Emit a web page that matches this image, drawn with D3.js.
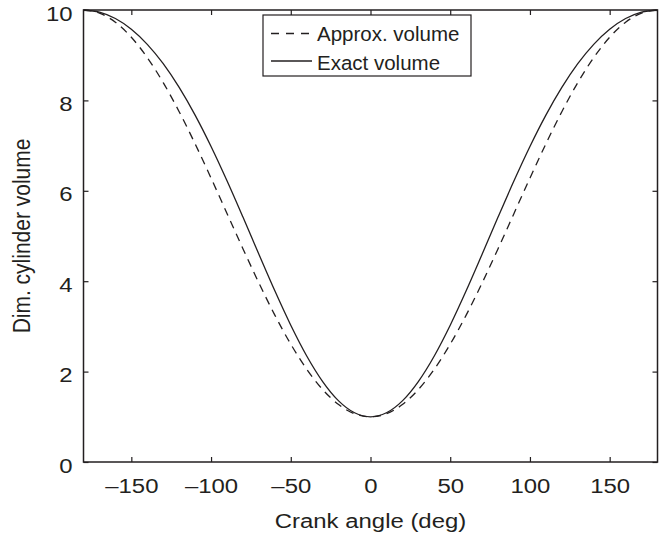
<!DOCTYPE html>
<html>
<head>
<meta charset="utf-8">
<script src="https://cdn.jsdelivr.net/npm/d3@7/dist/d3.min.js"></script>
<style>
  html, body { margin: 0; padding: 0; background: #fff; }
  svg { display: block; }
  text { font-family: "Liberation Sans", Arial, Helvetica, sans-serif; fill: #231f20; }
</style>
</head>
<body>
<svg id="chart" width="659" height="539"></svg>
<script>
// ---- data ----
const crankAngle = [-180,-170,-160,-150,-140,-130,-120,-110,-100,-90,-80,-70,-60,-50,-40,-30,-20,-10,0,
                    10,20,30,40,50,60,70,80,90,100,110,120,130,140,150,160,170,180];
const approxVolume = [10.000,9.932,9.729,9.397,8.947,8.393,7.750,7.039,6.281,5.500,4.719,3.961,3.250,2.607,2.053,1.603,1.271,1.068,1.000,
                      1.068,1.271,1.603,2.053,2.607,3.250,3.961,4.719,5.500,6.281,7.039,7.750,8.393,8.947,9.397,9.729,9.932,10.000];
const exactVolume = [10.000,9.953,9.811,9.574,9.240,8.812,8.287,7.674,6.980,6.221,5.418,4.596,3.787,3.026,2.346,1.780,1.353,1.089,1.000,
                     1.089,1.353,1.780,2.346,3.026,3.787,4.596,5.418,6.221,6.980,7.674,8.287,8.812,9.240,9.574,9.811,9.953,10.000];
const xTicks = [-150,-100,-50,0,50,100,150];
const xTickLabels = ["\u2013150","\u2013100","\u201350","0","50","100","150"];
const yTicks = [0,2,4,6,8,10];
const yTickLabels = ["0","2","4","6","8","10"];
const seriesNames = ["Approx. volume","Exact volume"];
const xTitle = "Crank angle (deg)";
const yTitle = "Dim. cylinder volume";

// ---- layout ----
const ink = "#231f20";
const stretch = 1.14;
const svg = d3.select("#chart");
const x = d3.scaleLinear().domain([-180,180]).range([83.5,657.5]);
const y = d3.scaleLinear().domain([0,10]).range([462,10]);

// box
svg.append("rect")
  .attr("x", x(-180)).attr("y", y(10))
  .attr("width", x(180)-x(-180)).attr("height", y(0)-y(10))
  .attr("fill","none").attr("stroke",ink).attr("stroke-width",1.5);

// axes (ticks inward)
const gB = svg.append("g").attr("transform",`translate(0,${y(0)})`)
  .call(d3.axisBottom(x).tickValues(xTicks).tickSize(-5).tickSizeOuter(0).tickFormat((d,i)=>xTickLabels[i]));
const gT = svg.append("g").attr("transform",`translate(0,${y(10)})`)
  .call(d3.axisTop(x).tickValues(xTicks).tickSize(-5).tickSizeOuter(0).tickFormat(""));
const gL = svg.append("g").attr("transform",`translate(${x(-180)},0)`)
  .call(d3.axisLeft(y).tickValues(yTicks).tickSize(-5).tickSizeOuter(0).tickFormat((d,i)=>yTickLabels[i]));
const gR = svg.append("g").attr("transform",`translate(${x(180)},0)`)
  .call(d3.axisRight(y).tickValues(yTicks).tickSize(-5).tickSizeOuter(0).tickFormat(""));
[gB,gT,gL,gR].forEach(g=>{
  g.select(".domain").remove();
  g.selectAll(".tick line").attr("stroke",ink).attr("stroke-width",1.2);
});
gB.selectAll(".tick text")
  .attr("y",31).attr("dy",null)
  .attr("transform",`scale(${stretch},1)`)
  .style("font-size","21px").style("fill",ink);
gL.selectAll(".tick text")
  .attr("x",-11/stretch).attr("dy",null).attr("y",10)
  .attr("transform",`scale(${stretch},1)`)
  .style("font-size","21px").style("fill",ink);
gT.selectAll(".tick text").remove();
gR.selectAll(".tick text").remove();

// axis titles
svg.append("text")
  .attr("transform",`translate(${(x(-180)+x(180))/2},528) scale(${stretch},1)`)
  .attr("text-anchor","middle").style("font-size","21px").text(xTitle);
svg.append("text")
  .attr("transform",`translate(30,${(y(0)+y(10))/2}) scale(${stretch},1) rotate(-90)`)
  .attr("text-anchor","middle").style("font-size","21px").text(yTitle);

// curves
const line = (vals)=> d3.line()
  .x((d,i)=>x(crankAngle[i]))
  .y(d=>y(d))
  .curve(d3.curveMonotoneX)(vals);
svg.append("path").attr("d",line(approxVolume))
  .attr("fill","none").attr("stroke",ink).attr("stroke-width",1.3)
  .attr("stroke-dasharray","8,6");
svg.append("path").attr("d",line(exactVolume))
  .attr("fill","none").attr("stroke",ink).attr("stroke-width",1.3);

// legend
const lg = svg.append("g");
lg.append("rect").attr("x",263).attr("y",15).attr("width",208).attr("height",61)
  .attr("fill","#fff").attr("stroke",ink).attr("stroke-width",1.2);
const rows = [{name:seriesNames[0],dash:"8,7",cy:33.5,base:41},{name:seriesNames[1],dash:null,cy:61,base:69.5}];
rows.forEach(r=>{
  lg.append("line").attr("x1",271).attr("x2",312).attr("y1",r.cy).attr("y2",r.cy)
    .attr("stroke",ink).attr("stroke-width",1.3).attr("stroke-dasharray",r.dash);
  lg.append("text").attr("x",317).attr("y",r.base).style("font-size","20.5px").text(r.name);
});
</script>
</body>
</html>
